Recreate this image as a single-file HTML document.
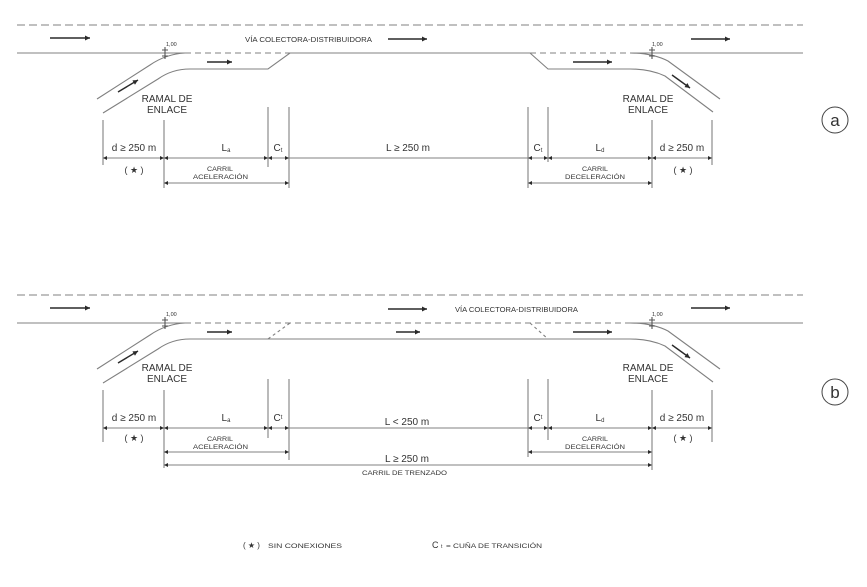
<!DOCTYPE html>
<html><head><meta charset="utf-8"><style>
html,body{margin:0;padding:0;background:#fff;}
svg{display:block;}
text{font-family:"Liberation Sans",Arial,sans-serif;fill:#333;}
</style></head><body>
<svg width="867" height="587" viewBox="0 0 867 587" xmlns="http://www.w3.org/2000/svg">
<defs>
<marker id="ar" viewBox="0 0 10 10" refX="10" refY="5" markerWidth="8" markerHeight="5" markerUnits="userSpaceOnUse" orient="auto"><path d="M0,0 L10,5 L0,10 z" fill="#2a2a2a"/></marker>
<marker id="dm" viewBox="0 0 10 10" refX="10" refY="5" markerWidth="6" markerHeight="4" markerUnits="userSpaceOnUse" orient="auto-start-reverse"><path d="M0,0 L10,5 L0,10 z" fill="#2a2a2a"/></marker>
</defs>

<!-- ================= DIAGRAM A ================= -->
<g fill="none" stroke="#808080" stroke-width="1.1">
  <line x1="17" y1="25" x2="803" y2="25" stroke-dasharray="8,4"/>
  <path d="M17,53 H185"/>
  <path d="M97,99 L150,65 Q166,54 185,53"/>
  <path d="M103,113 L158,79 Q172,69 190,69 H268 L290,53 H530 L548,69 H630 Q650,69 665,76 L713,112"/>
  <path d="M185,53 H290" stroke-dasharray="6,4"/>
  <path d="M530,53 H630" stroke-dasharray="6,4"/>
  <path d="M630,53 H803"/>
  <path d="M630,53 Q652,53 668,61 L720,99"/>
  <path d="M165,47 V59 M162,50 H168 M162,56 H168" stroke="#555"/>
  <path d="M652,47 V59 M649,50 H655 M649,56 H655" stroke="#555"/>
</g>
<text x="166" y="46" font-size="5.5">1,00</text>
<text x="652" y="46" font-size="5.5">1,00</text>

<g stroke="#2a2a2a" stroke-width="1.4" fill="none">
  <line x1="50" y1="38" x2="90" y2="38" marker-end="url(#ar)"/>
  <line x1="207" y1="62" x2="232" y2="62" marker-end="url(#ar)"/>
  <line x1="388" y1="39" x2="427" y2="39" marker-end="url(#ar)"/>
  <line x1="573" y1="62" x2="612" y2="62" marker-end="url(#ar)"/>
  <line x1="691" y1="39" x2="730" y2="39" marker-end="url(#ar)"/>
  <line x1="118" y1="92" x2="138" y2="80" marker-end="url(#ar)"/>
  <line x1="672" y1="75" x2="690" y2="88" marker-end="url(#ar)"/>
</g>

<text x="245" y="42" font-size="7" textLength="127" lengthAdjust="spacingAndGlyphs">VÍA COLECTORA-DISTRIBUIDORA</text>
<text x="167" y="102" font-size="10" text-anchor="middle">RAMAL DE</text>
<text x="167" y="113" font-size="10" text-anchor="middle">ENLACE</text>
<text x="648" y="102" font-size="10" text-anchor="middle">RAMAL DE</text>
<text x="648" y="113" font-size="10" text-anchor="middle">ENLACE</text>

<g stroke="#808080" stroke-width="1.1" fill="none">
  <line x1="103" y1="120" x2="103" y2="165"/>
  <line x1="164" y1="120" x2="164" y2="188"/>
  <line x1="268" y1="107" x2="268" y2="167"/>
  <line x1="289" y1="107" x2="289" y2="188"/>
  <line x1="528" y1="107" x2="528" y2="188"/>
  <line x1="548" y1="107" x2="548" y2="162"/>
  <line x1="652" y1="120" x2="652" y2="188"/>
  <line x1="712" y1="120" x2="712" y2="165"/>
  <line x1="103" y1="158" x2="164" y2="158" marker-start="url(#dm)" marker-end="url(#dm)"/>
  <line x1="164" y1="158" x2="268" y2="158" marker-start="url(#dm)" marker-end="url(#dm)"/>
  <line x1="268" y1="158" x2="289" y2="158" marker-start="url(#dm)" marker-end="url(#dm)"/>
  <line x1="289" y1="158" x2="528" y2="158"/>
  <line x1="528" y1="158" x2="548" y2="158" marker-start="url(#dm)" marker-end="url(#dm)"/>
  <line x1="548" y1="158" x2="652" y2="158" marker-start="url(#dm)" marker-end="url(#dm)"/>
  <line x1="652" y1="158" x2="712" y2="158" marker-start="url(#dm)" marker-end="url(#dm)"/>
  <line x1="164" y1="183" x2="289" y2="183" marker-start="url(#dm)" marker-end="url(#dm)"/>
  <line x1="528" y1="183" x2="652" y2="183" marker-start="url(#dm)" marker-end="url(#dm)"/>
</g>
<text x="134" y="151" font-size="10" text-anchor="middle">d  ≥ 250 m</text>
<text x="226" y="151" font-size="10" text-anchor="middle">L<tspan font-size="6" dy="1">a</tspan></text>
<text x="278" y="151" font-size="10" text-anchor="middle">C<tspan font-size="6" dy="1">t</tspan></text>
<text x="408" y="151" font-size="10" text-anchor="middle">L ≥ 250 m</text>
<text x="538" y="151" font-size="10" text-anchor="middle">C<tspan font-size="6" dy="1">t</tspan></text>
<text x="600" y="151" font-size="10" text-anchor="middle">L<tspan font-size="6" dy="1">d</tspan></text>
<text x="682" y="151" font-size="10" text-anchor="middle">d  ≥ 250 m</text>
<text x="134" y="173" font-size="9" text-anchor="middle">( ★ )</text>
<text x="683" y="173" font-size="9" text-anchor="middle">( ★ )</text>
<text x="207" y="171" font-size="6.5" textLength="26" lengthAdjust="spacingAndGlyphs">CARRIL</text>
<text x="193" y="179" font-size="6.5" textLength="55" lengthAdjust="spacingAndGlyphs">ACELERACIÓN</text>
<text x="582" y="171" font-size="6.5" textLength="26" lengthAdjust="spacingAndGlyphs">CARRIL</text>
<text x="565" y="179" font-size="6.5" textLength="60" lengthAdjust="spacingAndGlyphs">DECELERACIÓN</text>

<circle cx="835" cy="120" r="13" fill="none" stroke="#444" stroke-width="1"/>
<text x="835" y="126" font-size="17" text-anchor="middle">a</text>

<!-- ================= DIAGRAM B ================= -->
<g fill="none" stroke="#808080" stroke-width="1.1">
  <line x1="17" y1="295" x2="803" y2="295" stroke-dasharray="8,4"/>
  <path d="M17,323 H185"/>
  <path d="M97,369 L150,335 Q166,324 185,323"/>
  <path d="M103,383 L158,349 Q172,339 190,339 H630 Q650,339 665,346 L713,382"/>
  <path d="M185,323 H630" stroke-dasharray="6,4"/>
  <path d="M268,339 L290,323" stroke-dasharray="3,3"/>
  <path d="M530,323 L548,339" stroke-dasharray="3,3"/>
  <path d="M630,323 H803"/>
  <path d="M630,323 Q652,323 668,331 L720,369"/>
  <path d="M165,317 V329 M162,320 H168 M162,326 H168" stroke="#555"/>
  <path d="M652,317 V329 M649,320 H655 M649,326 H655" stroke="#555"/>
</g>
<text x="166" y="316" font-size="5.5">1,00</text>
<text x="652" y="316" font-size="5.5">1,00</text>

<g stroke="#2a2a2a" stroke-width="1.4" fill="none">
  <line x1="50" y1="308" x2="90" y2="308" marker-end="url(#ar)"/>
  <line x1="207" y1="332" x2="232" y2="332" marker-end="url(#ar)"/>
  <line x1="388" y1="309" x2="427" y2="309" marker-end="url(#ar)"/>
  <line x1="396" y1="332" x2="420" y2="332" marker-end="url(#ar)"/>
  <line x1="573" y1="332" x2="612" y2="332" marker-end="url(#ar)"/>
  <line x1="691" y1="308" x2="730" y2="308" marker-end="url(#ar)"/>
  <line x1="118" y1="363" x2="138" y2="351" marker-end="url(#ar)"/>
  <line x1="672" y1="345" x2="690" y2="358" marker-end="url(#ar)"/>
</g>

<text x="455" y="312" font-size="7" textLength="123" lengthAdjust="spacingAndGlyphs">VÍA COLECTORA-DISTRIBUIDORA</text>
<text x="167" y="371" font-size="10" text-anchor="middle">RAMAL DE</text>
<text x="167" y="382" font-size="10" text-anchor="middle">ENLACE</text>
<text x="648" y="371" font-size="10" text-anchor="middle">RAMAL DE</text>
<text x="648" y="382" font-size="10" text-anchor="middle">ENLACE</text>

<g stroke="#808080" stroke-width="1.1" fill="none">
  <line x1="103" y1="390" x2="103" y2="442"/>
  <line x1="164" y1="390" x2="164" y2="468"/>
  <line x1="268" y1="379" x2="268" y2="438"/>
  <line x1="289" y1="379" x2="289" y2="460"/>
  <line x1="528" y1="379" x2="528" y2="457"/>
  <line x1="548" y1="379" x2="548" y2="440"/>
  <line x1="652" y1="390" x2="652" y2="470"/>
  <line x1="712" y1="390" x2="712" y2="442"/>
  <line x1="103" y1="428" x2="164" y2="428" marker-start="url(#dm)" marker-end="url(#dm)"/>
  <line x1="164" y1="428" x2="268" y2="428" marker-start="url(#dm)" marker-end="url(#dm)"/>
  <line x1="268" y1="428" x2="289" y2="428" marker-start="url(#dm)" marker-end="url(#dm)"/>
  <line x1="289" y1="428" x2="528" y2="428"/>
  <line x1="528" y1="428" x2="548" y2="428" marker-start="url(#dm)" marker-end="url(#dm)"/>
  <line x1="548" y1="428" x2="652" y2="428" marker-start="url(#dm)" marker-end="url(#dm)"/>
  <line x1="652" y1="428" x2="712" y2="428" marker-start="url(#dm)" marker-end="url(#dm)"/>
  <line x1="164" y1="452" x2="289" y2="452" marker-start="url(#dm)" marker-end="url(#dm)"/>
  <line x1="528" y1="452" x2="652" y2="452" marker-start="url(#dm)" marker-end="url(#dm)"/>
  <line x1="164" y1="465" x2="652" y2="465" marker-start="url(#dm)" marker-end="url(#dm)"/>
</g>
<text x="134" y="421" font-size="10" text-anchor="middle">d  ≥ 250 m</text>
<text x="226" y="421" font-size="10" text-anchor="middle">L<tspan font-size="6" dy="1">a</tspan></text>
<text x="278" y="421" font-size="10" text-anchor="middle">C<tspan font-size="6" dy="-2">t</tspan></text>
<text x="407" y="425" font-size="10" text-anchor="middle">L &lt; 250 m</text>
<text x="538" y="421" font-size="10" text-anchor="middle">C<tspan font-size="6" dy="-2">t</tspan></text>
<text x="600" y="421" font-size="10" text-anchor="middle">L<tspan font-size="6" dy="1">d</tspan></text>
<text x="682" y="421" font-size="10" text-anchor="middle">d  ≥ 250 m</text>
<text x="134" y="441" font-size="9" text-anchor="middle">( ★ )</text>
<text x="683" y="441" font-size="9" text-anchor="middle">( ★ )</text>
<text x="207" y="441" font-size="6.5" textLength="26" lengthAdjust="spacingAndGlyphs">CARRIL</text>
<text x="193" y="449" font-size="6.5" textLength="55" lengthAdjust="spacingAndGlyphs">ACELERACIÓN</text>
<text x="582" y="441" font-size="6.5" textLength="26" lengthAdjust="spacingAndGlyphs">CARRIL</text>
<text x="565" y="449" font-size="6.5" textLength="60" lengthAdjust="spacingAndGlyphs">DECELERACIÓN</text>
<text x="407" y="462" font-size="10" text-anchor="middle">L ≥ 250 m</text>
<text x="362" y="475" font-size="6.5" textLength="85" lengthAdjust="spacingAndGlyphs">CARRIL  DE TRENZADO</text>

<circle cx="835" cy="392" r="13" fill="none" stroke="#444" stroke-width="1"/>
<text x="835" y="398" font-size="17" text-anchor="middle">b</text>

<!-- legend -->
<text x="243" y="548" font-size="8">( ★ )</text>
<text x="268" y="548" font-size="6.5" textLength="74" lengthAdjust="spacingAndGlyphs">SIN CONEXIONES</text>
<text x="432" y="548" font-size="9">C</text>
<text x="441" y="548" font-size="5">t</text>
<text x="446" y="548" font-size="6.5" textLength="96" lengthAdjust="spacingAndGlyphs">= CUÑA DE TRANSICIÓN</text>
</svg>
</body></html>
